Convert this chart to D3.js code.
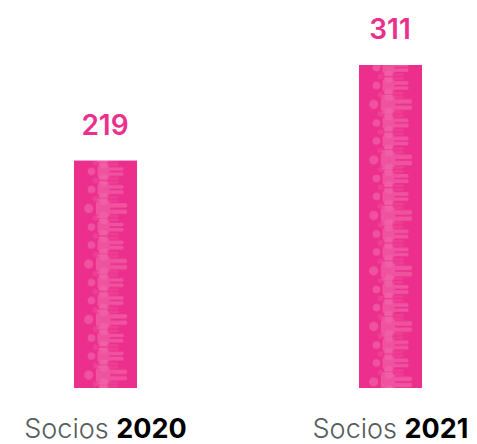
<!DOCTYPE html>
<html>
<head>
<meta charset="utf-8">
<script src="https://cdn.jsdelivr.net/npm/d3@7"></script>
<style>
  html, body { margin: 0; padding: 0; background: #fff; }
  text { font-family: Inter, "Open Sans", sans-serif; }
</style>
</head>
<body>
<svg id="chart" width="477" height="444" style="display:block"></svg>
<script>
const labels = ["Socios", "Socios"];
const years = ["2020", "2021"];
const values = [219, 311];

const pink = "#ec2f8c";
const svg = d3.select("#chart");

const x = d3.scalePoint().domain(years).range([105.5, 390.5]);
const y = d3.scaleLinear().domain([0, 311]).range([388, 65]);
const barWidth = 63;

const defs = svg.append("defs");

// one sideways person, head on the left
const person = (g, cy, s, op) => {
    const p = g.append("g")
        .attr("transform", `translate(0,${cy}) scale(${s})`)
        .attr("fill", "#fff")
        .attr("opacity", op);
    p.append("circle").attr("cx", -14).attr("cy", 0).attr("r", 3.8);
    p.append("rect").attr("x", -8).attr("y", -6).attr("width", 12).attr("height", 12).attr("rx", 2);
    p.append("rect").attr("x", 3).attr("y", -4.4).attr("width", 15).attr("height", 3.6).attr("rx", 1.5);
    p.append("rect").attr("x", 3).attr("y", 0.8).attr("width", 15).attr("height", 3.6).attr("rx", 1.5);
    p.append("rect").attr("x", -7).attr("y", -8.2).attr("width", 9).attr("height", 2.4).attr("rx", 1.2);
    p.append("rect").attr("x", -7).attr("y", 5.8).attr("width", 9).attr("height", 2.4).attr("rx", 1.2);
};

years.forEach((yr, i) => {
    const pat = defs.append("pattern")
        .attr("id", `people${yr}`)
        .attr("patternUnits", "userSpaceOnUse")
        .attr("width", barWidth)
        .attr("height", 55.5)
        .attr("patternTransform", `translate(${x(yr) - barWidth / 2},${y(values[i])})`);
    const g = pat.append("g").attr("transform", `translate(${barWidth / 2},0)`);
    const off = i === 0 ? 0 : -8.5;
    [0, 55.5, -55.5].forEach(k => {
        person(g, off + k + 2, 0.72, 0.08);
        person(g, off + k + 11, 1, 0.17);
        person(g, off + k + 20, 0.72, 0.08);
        person(g, off + k + 29, 1, 0.17);
        person(g, off + k + 38.5, 0.72, 0.08);
        person(g, off + k + 48, 1.2, 0.17);
    });
});

const bars = svg.selectAll(".bar").data(values).enter();

bars.append("rect")
    .attr("class", "bar")
    .attr("x", (d, i) => x(years[i]) - barWidth / 2)
    .attr("y", d => y(d))
    .attr("width", barWidth)
    .attr("height", d => y(0) - y(d))
    .attr("fill", pink);

bars.append("rect")
    .attr("x", (d, i) => x(years[i]) - barWidth / 2)
    .attr("y", d => y(d))
    .attr("width", barWidth)
    .attr("height", d => y(0) - y(d))
    .attr("fill", (d, i) => `url(#people${years[i]})`);

bars.append("text")
    .attr("x", (d, i) => x(years[i]) - 0.5)
    .attr("y", d => y(d) - 26)
    .attr("text-anchor", "middle")
    .attr("font-size", 28)
    .attr("font-weight", 600)
    .attr("fill", pink)
    .text(d => d);

const cat = svg.selectAll(".cat").data(years).enter().append("text")
    .attr("class", "cat")
    .attr("x", d => x(d))
    .attr("y", 438)
    .attr("text-anchor", "middle")
    .attr("font-size", 27);

cat.append("tspan")
    .attr("font-weight", 300)
    .attr("fill", "#555b5b")
    .text((d, i) => labels[i] + " ");

cat.append("tspan")
    .attr("font-weight", 700)
    .attr("fill", "#000")
    .text(d => d);
</script>
</body>
</html>
